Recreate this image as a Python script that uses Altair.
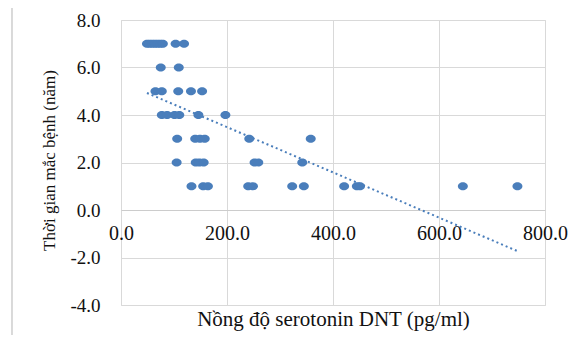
import altair as alt
import pandas as pd

# serotonin concentration (pg/ml) and disease duration (years)
x_vals = [49, 54, 59, 64, 69, 74, 79, 103, 119,
          75, 109,
          65, 77, 108, 132, 153,
          77, 87, 101, 110, 146, 197,
          106, 140, 149, 158, 242, 358,
          105, 141, 148, 156, 252, 259, 342,
          133, 155, 164, 240, 249, 323, 345, 421, 445, 451, 645, 748]
y_vals = [7] * 9 + [6] * 2 + [5] * 5 + [4] * 6 + [3] * 6 + [2] * 7 + [1] * 12

x_ticks = [0, 200, 400, 600, 800]
y_ticks = [-4, -2, 0, 2, 4, 6, 8]

df = pd.DataFrame({"x": x_vals, "y": y_vals})

BLUE = "#4a7ebb"
GRID = "#d9d9d9"
TEXT = "#111111"
FONT = "Liberation Serif"

ellipse = "M-1,0A1,0.8,0,1,0,1,0A1,0.8,0,1,0,-1,0Z"

x_enc = alt.X(
    "x:Q",
    scale=alt.Scale(domain=[0, 800], nice=False),
    axis=alt.Axis(
        values=x_ticks,
        labelExpr="replace(format(datum.value, '.1f'), '\u2212', '-')",
        title="Nồng độ serotonin DNT (pg/ml)",
        offset=-95,
        titleY=98,
        titleBaseline="top",
        ticks=False,
        domain=True,
        domainColor="#cccccc",
        domainWidth=1,
        grid=True,
        gridColor=GRID,
        labelFlush=False,
        labelPadding=13,
        labelFontSize=20,
        titleFontSize=21,
        labelFont=FONT,
        titleFont=FONT,
        labelColor=TEXT,
        titleColor=TEXT,
        titleFontWeight="normal",
    ),
)
y_enc = alt.Y(
    "y:Q",
    scale=alt.Scale(domain=[-4, 8], nice=False),
    axis=alt.Axis(
        values=y_ticks,
        labelExpr="replace(format(datum.value, '.1f'), '\u2212', '-')",
        title="Thời gian mắc bệnh (năm)",
        titleX=-72,
        titleY=140,
        titleBaseline="middle",
        ticks=False,
        domain=False,
        grid=True,
        gridColor=GRID,
        labelFlush=False,
        labelPadding=21,
        labelFontSize=19,
        titleFontSize=17,
        labelFont=FONT,
        titleFont=FONT,
        labelColor=TEXT,
        titleColor=TEXT,
        titleFontWeight="normal",
    ),
)

points = alt.Chart(df).mark_point(
    filled=True, shape=ellipse, size=100, color=BLUE, opacity=1
).encode(x=x_enc, y=y_enc)

trend = alt.Chart(df).transform_regression("x", "y").mark_line(
    color=BLUE, strokeWidth=2, strokeDash=[2, 3]
).encode(x="x:Q", y="y:Q")

# light chart-area frame (top and left edges), as in the reference
frame_top = alt.Chart(df).mark_rule(color=GRID, strokeWidth=1).encode(
    x=alt.value(-109), x2=alt.value(470), y=alt.value(-17)
)
frame_left = alt.Chart(df).mark_rule(color=GRID, strokeWidth=1).encode(
    x=alt.value(-109), y=alt.value(-17), y2=alt.value(330)
)

chart = (
    alt.layer(frame_top, frame_left, trend, points)
    .properties(
        width=424,
        height=285,
        autosize=alt.AutoSizeParams(type="none"),
        padding={"left": 113, "top": 12, "right": 30, "bottom": 30},
    )
    .configure_view(stroke=GRID, strokeWidth=1)
    .configure(background="white")
)

chart.save("out.html", embed_options={"renderer": "svg", "actions": False})
